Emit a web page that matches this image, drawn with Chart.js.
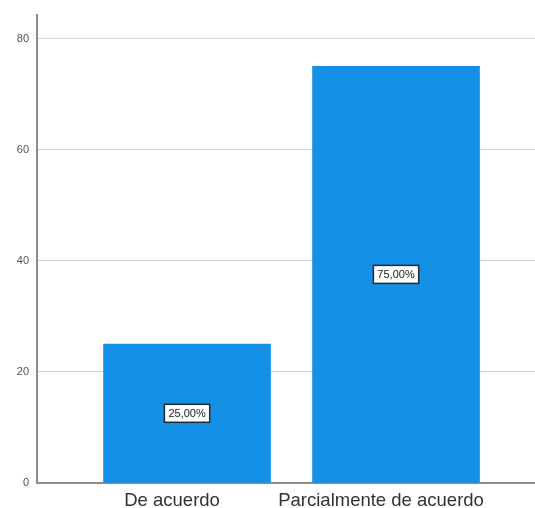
<!DOCTYPE html>
<html>
<head>
<meta charset="utf-8">
<script src="https://cdn.jsdelivr.net/npm/chart.js@4.4.1/dist/chart.umd.min.js"></script>
<style>
  html, body { margin: 0; padding: 0; background: #fff; }
  #wrap { width: 535px; height: 508px; position: relative; }
</style>
</head>
<body>
<div id="wrap"><canvas id="myChart"></canvas></div>
<script>
// categorías y porcentajes
var categories = ['De acuerdo', 'Parcialmente de acuerdo'];
var values = [25, 75];
var valueLabels = ['25,00%', '75,00%'];
var yTicks = [0, 20, 40, 60, 80];

// etiqueta con recuadro en el centro de cada barra
var boxLabels = {
	id: 'boxLabels',
	afterDatasetsDraw: function(chart) {
		var ctx = chart.ctx;
		var meta = chart.getDatasetMeta(0);
		ctx.save();
		ctx.font = '11px "Liberation Sans", Arial, sans-serif';
		ctx.textAlign = 'center';
		ctx.textBaseline = 'middle';
		meta.data.forEach(function(bar, i) {
			var cx = bar.x;
			var cy = (bar.y + bar.base) / 2;
			var txt = valueLabels[i];
			var w = ctx.measureText(txt).width + 8;
			var h = 18;
			ctx.fillStyle = '#ffffff';
			ctx.fillRect(cx - w / 2, cy - h / 2, w, h);
			ctx.strokeStyle = '#1e2a33';
			ctx.lineWidth = 1.5;
			ctx.strokeRect(cx - w / 2, cy - h / 2, w, h);
			ctx.fillStyle = '#1a1a1a';
			ctx.fillText(txt, cx, cy + 1);
		});
		ctx.restore();
	}
};

var points = [];
for (var i = 0; i < categories.length; i++) {
	points.push({ x: i, y: values[i] });
}

new Chart(document.getElementById('myChart'), {
	type: 'bar',
	data: {
		datasets: [{
			data: points,
			backgroundColor: '#1490e6',
			borderWidth: 0,
			barThickness: 167
		}]
	},
	options: {
		responsive: true,
		maintainAspectRatio: false,
		animation: false,
		layout: { padding: { top: 14, left: 0, right: 0, bottom: 0 } },
		plugins: {
			legend: { display: false },
			tooltip: { enabled: false }
		},
		scales: {
			x: {
				type: 'linear',
				offset: false,
				min: -0.718,
				max: 1.665,
				afterBuildTicks: function(scale) {
					scale.ticks = categories.map(function(c, i) { return { value: i }; });
				},
				afterFit: function(scale) { scale.height = 25; },
				grid: { display: false, drawTicks: false, offset: false },
				border: { display: true, color: '#8c8c8c', width: 2 },
				ticks: {
					padding: 7,
					labelOffset: -15,
					maxRotation: 0,
					autoSkip: false,
					color: '#333333',
					font: { family: '"Liberation Sans", Arial, sans-serif', size: 18.5 },
					callback: function(v) { return categories[v]; }
				}
			},
			y: {
				min: 0,
				max: 84.3,
				afterBuildTicks: function(scale) {
					scale.ticks = yTicks.map(function(v) { return { value: v }; });
				},
				afterFit: function(scale) { scale.width = 37; },
				grid: { color: '#d4d4d4', lineWidth: 1, drawTicks: false },
				border: { display: true, color: '#8c8c8c', width: 2 },
				ticks: {
					padding: 8,
					color: '#555555',
					font: { family: '"Liberation Sans", Arial, sans-serif', size: 11 }
				}
			}
		}
	},
	plugins: [boxLabels]
});
</script>
</body>
</html>
